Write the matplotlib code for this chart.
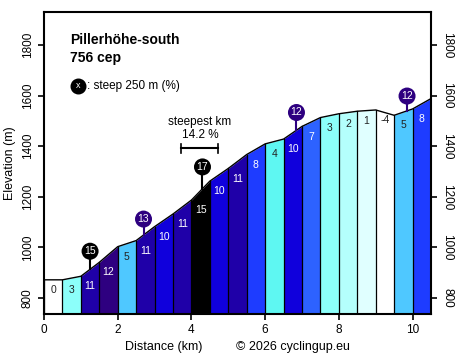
import matplotlib
matplotlib.use("Agg")
import matplotlib.pyplot as plt
import numpy as np

plt.rcParams['font.family'] = ['Liberation Sans', 'DejaVu Sans']

# Data
distance_km = [0.0, 0.5, 1.0, 1.5, 2.0, 2.5, 3.0, 3.5, 4.0, 4.5, 5.0, 5.5, 6.0,
               6.5, 7.0, 7.5, 8.0, 8.5, 9.0, 9.5, 10.0, 10.5]
elevation_m = [872, 872, 886, 941, 1003, 1027, 1082, 1132, 1187, 1262, 1312, 1367,
               1409, 1428, 1478, 1513, 1528, 1538, 1543, 1522, 1547, 1588]
gradients = [0, 3, 11, 12, 5, 11, 10, 11, 15, 10, 11, 8, 4, 10, 7, 3, 2, 1, -4, 5, 8]

steep_x = [1.25, 2.7, 4.3, 6.85, 9.85]
steep_val = [15, 13, 17, 12, 12]
steep_y = [985, 1112, 1318, 1533, 1598]

title = "Pillerhöhe-south"
subtitle = "756 cep"
steepest_km_text = "14.2 %"
steepest_km_range = [3.73, 4.73]
steepest_km_y = 1392

color_map = {-4: '#ffffff', 0: '#ffffff', 1: '#e0ffff', 2: '#b4fffc', 3: '#8cfffa',
             4: '#5ef7f2', 5: '#4fc8ff', 7: '#2d62ff', 8: '#1e3cff', 10: '#1000dc',
             11: '#1f00a8', 12: '#2e0080', 13: '#2e0080', 15: '#000000', 17: '#000000'}


def col(g):
    return color_map.get(g, '#000000')


fig = plt.figure(figsize=(4.71, 3.59), dpi=100)
ax = fig.add_axes([44/471, 45/359, 387/471, 302/359])

for i, g in enumerate(gradients):
    x0, x1 = distance_km[i], distance_km[i+1]
    y0, y1 = elevation_m[i], elevation_m[i+1]
    ax.fill_between([x0, x1], [y0, y1], 700, color=col(g), lw=0, zorder=1)
    ax.plot([x0, x0], [700, y0], color='black', lw=0.9, zorder=2)
    tc = 'white' if g >= 7 else '#222222'
    ax.text((x0 + x1) / 2, y0 - 40, str(g), ha='center', va='center',
            fontsize=7.5, color=tc, zorder=4)

ax.plot(distance_km, elevation_m, color='black', lw=1.0, zorder=3)

# steep markers
for x, v, y in zip(steep_x, steep_val, steep_y):
    base = np.interp(x, distance_km, elevation_m)
    c = col(v)
    ax.plot([x, x], [base, y], color=c, lw=1.5, zorder=5)
    ax.scatter([x], [y], s=150, color=c, zorder=6, edgecolors='none')
    ax.text(x, y, str(v), color='white', ha='center', va='center', fontsize=7.5, zorder=7)

# steepest km
ax.plot(steepest_km_range, [steepest_km_y] * 2, color='black', lw=1.5, zorder=5)
for xx in steepest_km_range:
    ax.plot([xx, xx], [steepest_km_y - 18, steepest_km_y + 18], color='black', lw=1.2, zorder=5)
mid = sum(steepest_km_range) / 2
ax.text(mid, steepest_km_y + 105, "steepest km", ha='center', va='center', fontsize=8.5)
ax.text(mid, steepest_km_y + 52, steepest_km_text, ha='center', va='center', fontsize=8.5)

ax.set_xlim(0, 10.5)
ax.set_ylim(737, 1930)
ax.set_xticks([0, 2, 4, 6, 8, 10])
ax.set_yticks([800, 1000, 1200, 1400, 1600, 1800])
ax.tick_params(axis='both', direction='out', labelsize=8.5, width=1.2, length=4)
ax.tick_params(axis='y', right=True, labelright=True)
for lab in ax.get_yticklabels():
    lab.set_rotation(90)
    lab.set_va('center')
for t in ax.yaxis.get_major_ticks():
    t.label2.set_rotation(270)
    t.label2.set_va('center')
for s in ax.spines.values():
    s.set_linewidth(1.5)

ax.set_ylabel("Elevation (m)", fontsize=9, labelpad=4)
ax.set_xlabel("Distance (km)", fontsize=9, labelpad=2)
ax.xaxis.set_label_coords(0.31, -0.09)
fig.text(293/471, 1 - 347/359, "© 2026 cyclingup.eu", ha='center', va='center', fontsize=9)

ax.text(0.067, 0.907, title, transform=ax.transAxes, fontsize=10, fontweight='bold', va='center')
ax.text(0.067, 0.848, subtitle, transform=ax.transAxes, fontsize=10, fontweight='bold', va='center')
ax.scatter([0.088], [0.755], s=110, color='black', transform=ax.transAxes, zorder=6)
ax.text(0.088, 0.755, "x", color='white', transform=ax.transAxes, ha='center', va='center',
        fontsize=6.5, zorder=7)
ax.text(0.112, 0.755, ": steep 250 m (%)", transform=ax.transAxes, fontsize=8.5, va='center')

fig.savefig("out.png", dpi=100)
